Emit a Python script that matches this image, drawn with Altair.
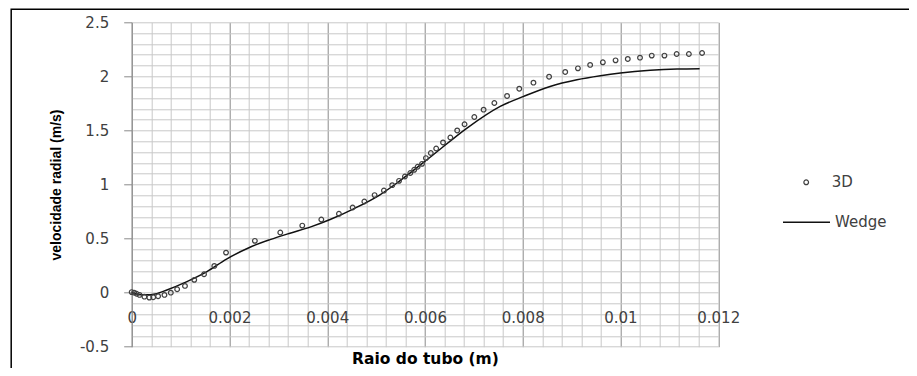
import altair as alt
import pandas as pd

# ---- data ----
r_3d = [0, 0.00005, 0.0001, 0.00016, 0.00026, 0.00036, 0.00044, 0.00054, 0.00067, 0.0008,
        0.00093, 0.00109, 0.00128, 0.00148, 0.00169, 0.00193, 0.00252, 0.00304, 0.00349, 0.00388,
        0.00424, 0.00452, 0.00476, 0.00497, 0.00516, 0.00533, 0.00547, 0.00559, 0.0057, 0.00578,
        0.00585, 0.00594, 0.00602, 0.00612, 0.00623, 0.00637, 0.00652, 0.00666, 0.00681, 0.00701,
        0.0072, 0.00742, 0.00768, 0.00793, 0.00822, 0.00854, 0.00887, 0.00913, 0.00938, 0.00964,
        0.0099, 0.01015, 0.0104, 0.01064, 0.0109, 0.01115, 0.0114, 0.01167]
v_3d = [0.005, 0.0, -0.01, -0.021, -0.037, -0.046, -0.043, -0.033, -0.021, 0.0,
        0.031, 0.062, 0.118, 0.170, 0.247, 0.370, 0.479, 0.556, 0.620, 0.676,
        0.729, 0.787, 0.843, 0.902, 0.944, 0.994, 1.034, 1.074, 1.106, 1.136,
        1.164, 1.191, 1.244, 1.291, 1.333, 1.389, 1.435, 1.5, 1.557, 1.624,
        1.692, 1.754, 1.819, 1.886, 1.942, 1.997, 2.041, 2.074, 2.106, 2.13,
        2.148, 2.161, 2.173, 2.192, 2.192, 2.207, 2.207, 2.216]

r_wedge = [0, 0.0001, 0.0002, 0.0003, 0.00048, 0.00072, 0.00113, 0.00154, 0.00194, 0.00242,
           0.00283, 0.00324, 0.00365, 0.00406, 0.00454, 0.00508, 0.00549, 0.00617, 0.00686, 0.00754,
           0.00802, 0.00856, 0.00911, 0.00959, 0.01, 0.01061, 0.01116, 0.01162]
v_wedge = [0, -0.012, -0.02, -0.02, -0.012, 0.025, 0.102, 0.194, 0.31, 0.42,
           0.49, 0.55, 0.606, 0.676, 0.775, 0.905, 1.035, 1.275, 1.522, 1.722,
           1.815, 1.907, 1.969, 2.006, 2.031, 2.056, 2.068, 2.071]

series_names = ["3D", "Wedge"]
x_tick_labels = [0, 0.002, 0.004, 0.006, 0.008, 0.01, 0.012]
y_tick_labels = [-0.5, 0, 0.5, 1, 1.5, 2, 2.5]
x_minor_step = 0.0004
y_minor_step = 0.1

# ---- derived tables ----
x_grid = [round(i * x_minor_step, 4) for i in range(int(round(x_tick_labels[-1] / x_minor_step)) + 1)]
n_y = int(round((y_tick_labels[-1] - y_tick_labels[0]) / y_minor_step))
y_grid = [round(y_tick_labels[0] + i * y_minor_step, 1) for i in range(n_y + 1)]

df3d = pd.DataFrame({"r": r_3d, "v": v_3d, "series": series_names[0]})
dfw = pd.DataFrame({"r": r_wedge, "v": v_wedge, "series": series_names[1]})

W = 586.5
H = 324.4
xs = alt.Scale(domain=[x_tick_labels[0], x_tick_labels[-1]], nice=False, zero=False)
ys = alt.Scale(domain=[y_tick_labels[0], y_tick_labels[-1]], nice=False, zero=False)

x_major = "abs(datum.value*500 - round(datum.value*500)) < 0.001"
y_major = "abs(datum.value*2 - round(datum.value*2)) < 0.001"
zero_offset = -H * (0 - y_tick_labels[0]) / (y_tick_labels[-1] - y_tick_labels[0])

x_axis = alt.Axis(
    values=x_grid, orient="bottom", offset=zero_offset, domain=False, ticks=False, tickSize=0,
    labelExpr=f"{x_major} ? ('' + datum.value) : ''", labelOverlap=False, labelFlush=False,
    labelFont="DejaVu Sans", labelFontSize=15, labelColor="#404040",
    labelBaseline="middle", labelPadding=25,
    grid=True, gridWidth=1,
    gridColor={"condition": {"test": x_major, "value": "#8a8a8a"}, "value": "#c8c8c8"},
    title="Raio do tubo (m)", titleFont="DejaVu Sans", titleFontSize=15.5, titleFontWeight="bold",
    titleColor="#000000", titleBaseline="alphabetic", titleY=70.5,
)
y_axis = alt.Axis(
    values=y_grid, domain=True, domainColor="#8a8a8a", domainWidth=1,
    ticks=True, tickSize=8,
    tickColor={"condition": {"test": y_major, "value": "#8a8a8a"}, "value": "transparent"},
    labelExpr=f"{y_major} ? ('' + datum.value) : ''", labelOverlap=False,
    labelFont="DejaVu Sans", labelFontSize=15, labelColor="#404040", labelPadding=15,
    grid=True, gridColor="#c8c8c8", gridWidth=1,
    title="velocidade radial (m/s)", titleFont="Liberation Sans", titleFontSize=14,
    titleFontWeight="bold", titleColor="#000000", titleBaseline="alphabetic", titleX=-71,
    titleY=H / 2,
)

legend_3d = alt.Legend(
    orient="none", legendX=667, legendY=152.5, title=None, padding=0,
    symbolSize=22, symbolStrokeColor="#404040", symbolStrokeWidth=1.2, symbolFillColor="transparent",
    labelFont="DejaVu Sans", labelFontSize=15, labelColor="#404040", labelOffset=18,
)
legend_w = alt.Legend(
    orient="none", legendX=650.3, legendY=175.5, title=None, padding=0,
    symbolType="stroke", symbolSize=2209, symbolStrokeWidth=1.4,
    labelFont="DejaVu Sans", labelFontSize=15, labelColor="#404040", labelOffset=4,
)

border = alt.Chart(pd.DataFrame({"a": [0]})).mark_rect(
    filled=False, stroke="#000000", strokeWidth=1.5, fillOpacity=0
).encode(x=alt.value(-120.5), x2=alt.value(900), y=alt.value(-13), y2=alt.value(500))

line = alt.Chart(dfw).mark_line(strokeWidth=1.5, interpolate="monotone").encode(
    x=alt.X("r:Q", scale=xs, axis=x_axis),
    y=alt.Y("v:Q", scale=ys, axis=y_axis),
    color=alt.Color("series:N", scale=alt.Scale(domain=[series_names[1]], range=["#111111"]), legend=legend_w),
)

points = alt.Chart(df3d).mark_point(filled=False, size=22, strokeWidth=1.2, color="#404040", opacity=1).encode(
    x=alt.X("r:Q", scale=xs, axis=x_axis),
    y=alt.Y("v:Q", scale=ys, axis=y_axis),
    shape=alt.Shape("series:N", scale=alt.Scale(domain=[series_names[0]], range=["circle"]), legend=legend_3d),
)

chart = alt.layer(border, line, points).properties(
    width=W, height=H,
    autosize=alt.AutoSizeParams(type="none"),
    padding={"left": 123.7, "top": 14.3, "right": 190.8, "bottom": 21.3},
    background="white",
).configure_view(stroke=None)

chart.save("out.html", embed_options={"renderer": "svg", "actions": False})
